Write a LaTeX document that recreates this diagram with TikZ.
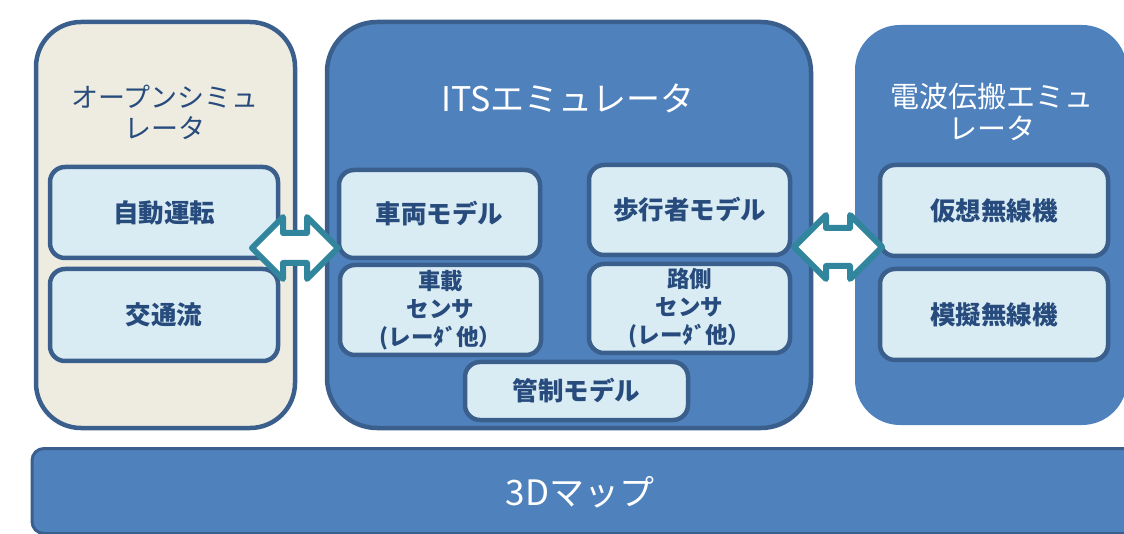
\documentclass[tikz,border=0pt]{standalone}
\usepackage{fontspec}
\setmainfont{Noto Sans CJK JP}
\definecolor{bdr}{HTML}{3A5F8C}
\definecolor{blue}{HTML}{4F81BD}
\definecolor{lightb}{HTML}{DAECF3}
\definecolor{beige}{HTML}{EEECE1}
\definecolor{txt}{HTML}{264B7C}
\definecolor{teal}{HTML}{31859C}
\begin{document}
\begin{tikzpicture}[x=1pt,y=-1pt,
  bigbox/.style={draw=bdr,line width=4.5pt,rounded corners=45pt,inner sep=0pt},
  inbox/.style={draw=bdr,fill=lightb,line width=4.5pt,rounded corners=15pt,inner sep=0pt,
    text=txt,font=\bfseries\fontsize{25.5}{28}\selectfont,align=center,
    minimum width=201pt,minimum height=90pt},
  sensor/.style={inbox,font=\bfseries\fontsize{22.5}{28}\selectfont},
  title/.style={align=center,inner sep=0pt},
  dbl/.style={draw=teal,fill=white,line width=6pt,line join=round}]
\useasboundingbox (0,0) rectangle (1124,534);
\clip (0,0) rectangle (1124,534);

% outer boxes
\node[bigbox,fill=beige,minimum width=259pt,minimum height=406pt] (open) at (165.5,225) {};
\node[bigbox,fill=blue,minimum width=484pt,minimum height=406pt,rounded corners=50pt] (its) at (569,225) {};
\node[fill=blue,rounded corners=45pt,inner sep=0pt,minimum width=272pt,minimum height=400pt] (radio) at (991,225) {};
\node[draw=bdr,fill=blue,line width=3pt,rounded corners=12pt,inner sep=0pt,
  minimum width=1108pt,minimum height=85pt] (map) at (586,491) {};
\node[text=white,font=\fontsize{35}{38}\selectfont] (maptxt) at (580,492) {3Dマップ};

% titles
\node[title,text=txt,font=\fontsize{27}{31}\selectfont] (t1) at (165,112) {オープンシミュ\\レータ};
\node[title,text=white,font=\fontsize{34}{38}\selectfont] (t2) at (568,98) {ITSエミュレータ};
\node[title,text=white,font=\fontsize{29}{32}\selectfont] (t3) at (992,112) {電波伝搬エミュ\\レータ};

% inner boxes
\node[inbox,minimum width=228pt,minimum height=91pt] (jido) at (164,212.5) {自動運転};
\node[inbox,minimum width=228pt,minimum height=92pt] (kotsu) at (164,315) {交通流};
\node[inbox,minimum height=88pt] (sharyo) at (439.5,214) {車両モデル};
\node[inbox] (hoko) at (689.5,210) {歩行者モデル};
\node[sensor] (shasai) at (440.5,310) {車載\\センサ\\(レーﾀﾞ他）};
\node[sensor,minimum height=89pt] (rosoku) at (689.5,308.5) {路側\\センサ\\(レーﾀﾞ他）};
\node[inbox,minimum width=223pt,minimum height=58pt] (kansei) at (576.5,391) {管制モデル};
\node[inbox,minimum width=228pt,minimum height=91pt] (kaso) at (994,210.5) {仮想無線機};
\node[inbox,minimum width=228pt,minimum height=91pt] (mogi) at (994,314.5) {模擬無線機};

% double arrows
\draw[dbl] (252,248) -- (283,217) -- (283,233) -- (307,233) -- (307,217) -- (338,248)
  -- (307,279) -- (307,263) -- (283,263) -- (283,279) -- cycle;
\draw[dbl] (794,247) -- (826,215) -- (826,228) -- (850,228) -- (850,215) -- (882,247)
  -- (850,279) -- (850,266) -- (826,266) -- (826,279) -- cycle;
\end{tikzpicture}
\end{document}
